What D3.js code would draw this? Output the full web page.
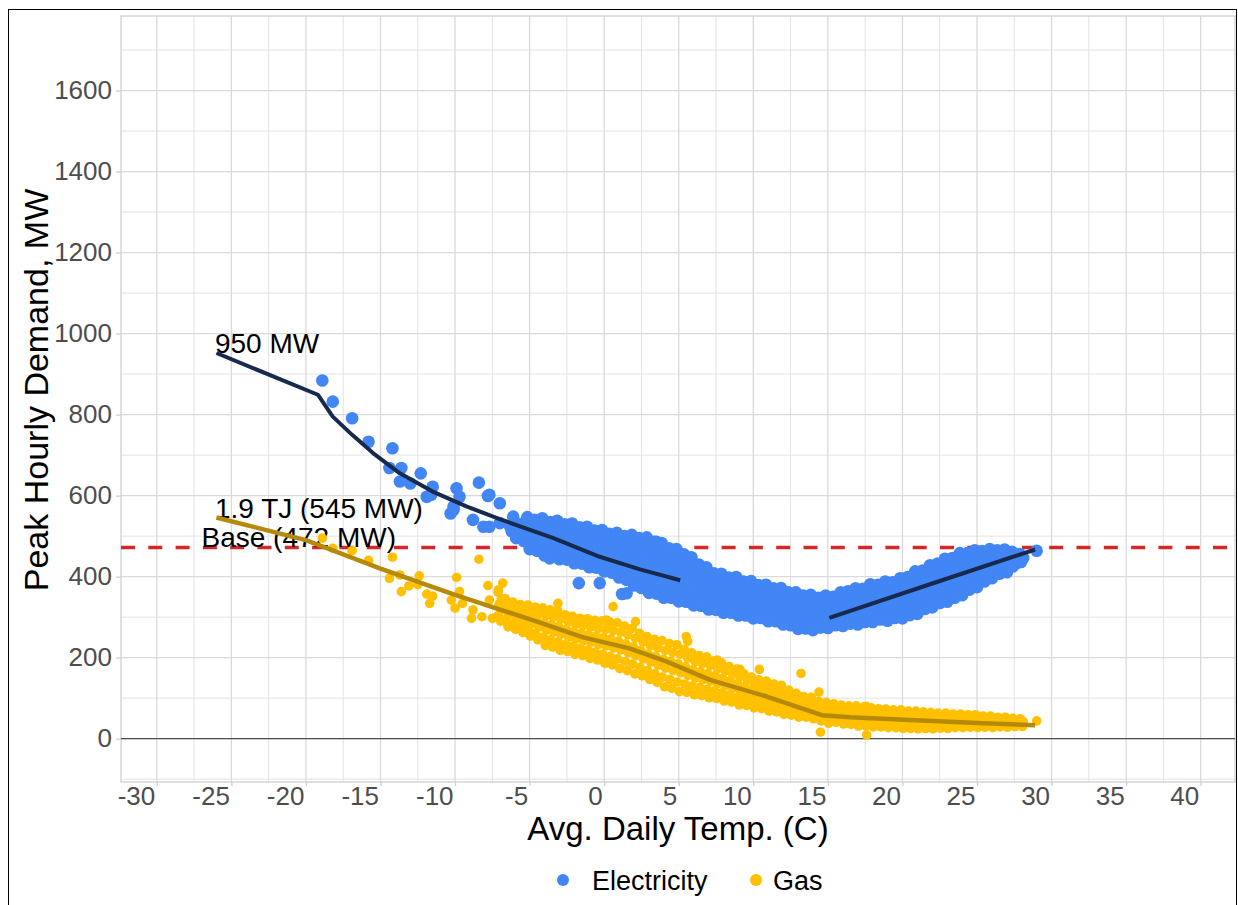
<!DOCTYPE html>
<html>
<head>
<meta charset="utf-8">
<script src="https://cdn.jsdelivr.net/npm/d3@7"></script>
<style>
  body { margin: 0; background: #fff; }
  svg text { font-family: "Liberation Sans", Arial, sans-serif; }
</style>
</head>
<body>
<div id="container"></div>
<script>
// tick labels
const xTicks = [-30, -25, -20, -15, -10, -5, 0, 5, 10, 15, 20, 25, 30, 35, 40];
const yTicks = [0, 200, 400, 600, 800, 1000, 1200, 1400, 1600];

const baseLoad = 472;

// [avg daily temp (C), peak hourly demand (MW)]
const elecPoints = [
  [-18.9,884],[-18.2,832],[-16.9,791],[-15.8,733],[-14.2,717],[-14.4,668],[-13.6,668],[-13.7,635],
  [-13.0,630],[-12.3,655],[-11.5,622],[-11.9,597],[-11.6,602],[-9.9,618],[-9.7,597],[-10.1,573],
  [-10.3,556],[-10.1,565],[-8.4,632],[-7.8,599],[-7.7,602],[-7.0,581],[-8.8,540],[-8.1,523],
  [-7.0,532],[-7.7,523],[-6.3,523],[-6.1,548],[-5.6,528],[-5.2,540],[-4.8,499],[-3.2,536],
  [-6.2,512],[-5.9,495],[-5.6,505],[-5.4,488],[-5.8,530],
  [-3.65,445],[-2.1,441],[-1.7,384],[-0.3,384],[1.5,359],[1.2,357],[3.5,486],[2.2,486],
  [-5.15,547],[-4.9,531],[-5.05,520],[-4.85,507],[-5.1,495],[-4.95,482],[-5.0,468],
  [-4.65,540],[-4.4,528],[-4.55,516],[-4.35,502],[-4.6,489],[-4.45,475],[-4.5,464],
  [-4.15,544],[-3.9,526],[-4.05,511],[-3.85,498],[-4.1,483],[-3.95,469],[-4.0,452],
  [-3.65,535],[-3.4,522],[-3.55,508],[-3.35,494],[-3.6,479],[-3.45,464],[-3.5,452],
  [-3.15,538],[-2.9,520],[-3.05,506],[-2.85,490],[-3.1,475],[-2.95,460],[-3.0,443],
  [-2.65,529],[-2.4,516],[-2.55,501],[-2.35,486],[-2.6,470],[-2.45,455],[-2.5,442],
  [-2.15,531],[-1.9,513],[-2.05,497],[-1.85,482],[-2.1,466],[-1.95,451],[-2.0,433],
  [-1.65,522],[-1.4,508],[-1.55,493],[-1.35,477],[-1.6,461],[-1.45,446],[-1.5,432],
  [-1.15,523],[-0.9,504],[-1.05,489],[-0.85,473],[-1.1,457],[-0.95,441],[-1.0,423],
  [-0.65,514],[-0.4,500],[-0.55,484],[-0.35,468],[-0.6,452],[-0.45,436],[-0.5,422],
  [-0.15,515],[0.1,496],[-0.05,480],[0.15,464],[-0.1,447],[0.05,431],[0.0,413],
  [0.35,506],[0.6,491],[0.45,475],[0.65,458],[0.4,441],[0.55,424],[0.5,410],
  [0.85,508],[1.1,487],[0.95,470],[1.15,452],[0.9,435],[1.05,417],[1.0,398],
  [1.35,500],[1.6,483],[1.45,465],[1.65,446],[1.4,427],[1.55,409],[1.5,392],
  [1.85,503],[2.1,480],[1.95,460],[2.15,440],[1.9,420],[2.05,400],[2.0,378],
  [2.35,495],[2.6,476],[2.45,455],[2.65,434],[2.4,412],[2.55,391],[2.5,372],
  [2.85,497],[3.1,472],[2.95,450],[3.15,428],[2.9,406],[3.05,384],[3.0,360],
  [3.35,486],[3.6,466],[3.45,444],[3.65,422],[3.4,400],[3.55,378],[3.5,358],
  [3.85,483],[4.1,458],[3.95,437],[4.15,415],[3.9,393],[4.05,372],[4.0,348],
  [4.35,470],[4.6,451],[4.45,430],[4.65,409],[4.4,388],[4.55,367],[4.5,348],
  [4.85,468],[5.1,444],[4.95,424],[5.15,403],[4.9,382],[5.05,362],[5.0,339],
  [5.35,455],[5.6,437],[5.45,417],[5.65,396],[5.4,376],[5.55,356],[5.5,338],
  [5.85,448],[6.1,426],[5.95,407],[6.15,388],[5.9,369],[6.05,350],[6.0,329],
  [6.35,430],[6.6,414],[6.45,397],[6.65,379],[6.4,361],[6.55,344],[6.5,328],
  [6.85,423],[7.1,404],[6.95,387],[7.15,371],[6.9,354],[7.05,338],[7.0,319],
  [7.35,408],[7.6,394],[7.45,379],[7.65,363],[7.4,347],[7.55,332],[7.5,318],
  [7.85,407],[8.1,389],[7.95,374],[8.15,358],[7.9,343],[8.05,328],[8.0,311],
  [8.35,398],[8.6,385],[8.45,370],[8.65,354],[8.4,339],[8.55,324],[8.5,311],
  [8.85,399],[9.1,381],[8.95,366],[9.15,351],[8.9,336],[9.05,321],[9.0,304],
  [9.35,388],[9.6,375],[9.45,361],[9.65,346],[9.4,331],[9.55,317],[9.5,304],
  [9.85,389],[10.1,371],[9.95,357],[10.15,342],[9.9,328],[10.05,313],[10.0,297],
  [10.35,379],[10.6,367],[10.45,353],[10.65,338],[10.4,324],[10.55,310],[10.5,298],
  [10.85,380],[11.1,363],[10.95,349],[11.15,334],[10.9,320],[11.05,306],[11.0,290],
  [11.35,371],[11.6,359],[11.45,345],[11.65,330],[11.4,316],[11.55,302],[11.5,290],
  [11.85,372],[12.1,355],[11.95,341],[12.15,326],[11.9,312],[12.05,298],[12.0,282],
  [12.35,361],[12.6,349],[12.45,335],[12.65,320],[12.4,306],[12.55,292],[12.5,280],
  [12.85,361],[13.1,344],[12.95,330],[13.15,315],[12.9,301],[13.05,287],[13.0,271],
  [13.35,353],[13.6,341],[13.45,327],[13.65,312],[13.4,298],[13.55,284],[13.5,272],
  [13.85,355],[14.1,338],[13.95,325],[14.15,311],[13.9,297],[14.05,284],[14.0,268],
  [14.35,348],[14.6,337],[14.45,324],[14.65,311],[14.4,298],[14.55,285],[14.5,274],
  [14.85,353],[15.1,337],[14.95,325],[15.15,312],[14.9,300],[15.05,287],[15.0,273],
  [15.35,350],[15.6,340],[15.45,327],[15.65,315],[15.4,303],[15.55,290],[15.5,280],
  [15.85,361],[16.1,345],[15.95,332],[16.15,319],[15.9,306],[16.05,293],[16.0,278],
  [16.35,364],[16.6,352],[16.45,338],[16.65,324],[16.4,310],[16.55,296],[16.5,284],
  [16.85,371],[17.1,354],[16.95,340],[17.15,326],[16.9,312],[17.05,298],[17.0,282],
  [17.35,370],[17.6,358],[17.45,343],[17.65,329],[17.4,315],[17.55,300],[17.5,288],
  [17.85,381],[18.1,363],[17.95,349],[18.15,334],[17.9,319],[18.05,305],[18.0,288],
  [18.35,380],[18.6,367],[18.45,352],[18.65,337],[18.4,322],[18.55,307],[18.5,294],
  [18.85,388],[19.1,370],[18.95,354],[19.15,339],[18.9,324],[19.05,308],[19.0,291],
  [19.35,386],[19.6,373],[19.45,357],[19.65,342],[19.4,327],[19.55,311],[19.5,298],
  [19.85,396],[20.1,377],[19.95,362],[20.15,346],[19.9,330],[20.05,315],[20.0,297],
  [20.35,399],[20.6,385],[20.45,368],[20.65,352],[20.4,336],[20.55,319],[20.5,305],
  [20.85,413],[21.1,393],[20.95,377],[21.15,360],[20.9,343],[21.05,327],[21.0,308],
  [21.35,415],[21.6,401],[21.45,384],[21.65,368],[21.4,351],[21.55,335],[21.5,320],
  [21.85,428],[22.1,409],[21.95,392],[22.15,376],[21.9,359],[22.05,343],[22.0,324],
  [22.35,432],[22.6,417],[22.45,400],[22.65,384],[22.4,367],[22.55,350],[22.5,335],
  [22.85,444],[23.1,424],[22.95,407],[23.15,391],[22.9,374],[23.05,357],[23.0,338],
  [23.35,446],[23.6,431],[23.45,414],[23.65,397],[23.4,380],[23.55,363],[23.5,348],
  [23.85,458],[24.1,439],[23.95,422],[24.15,406],[23.9,389],[24.05,373],[24.0,354],
  [24.35,458],[24.6,444],[24.45,429],[24.65,413],[24.4,397],[24.55,382],[24.5,368],
  [24.85,465],[25.1,448],[24.95,433],[25.15,419],[24.9,405],[25.05,390],[25.0,374],
  [25.35,463],[25.6,452],[25.45,439],[25.65,426],[25.4,412],[25.55,399],[25.5,388],
  [25.85,468],[26.1,455],[25.95,443],[26.15,432],[25.9,421],[26.05,409],[26.0,396],
  [26.35,465],[26.6,456],[26.45,446],[26.65,436],[26.4,425],[26.55,415],[26.5,407],
  [26.85,467],[27.1,456],[26.95,447],[27.15,439],[26.9,430],[27.05,421],[27.0,411],
  [27.35,461],[27.6,452],[27.45,443],[27.65,433],[27.4,425],
  [27.85,456],[28.1,446],[27.95,436],
  [29.0,464]
];

const gasPoints = [
  [-18.9,495],[-18.2,470],[-16.9,464],[-15.8,440],[-14.2,448],[-14.4,396],[-13.7,404],[-13.6,363],
  [-13.1,377],[-12.4,402],[-12.5,380],[-11.9,357],[-11.5,352],[-11.7,334],[-8.4,443],[-9.9,398],
  [-9.7,363],[-10.25,342],[-10.0,322],[-9.5,334],[-8.8,318],[-8.9,297],[-8.2,301],[-7.5,297],
  [-7.7,342],[-7.8,378],[-7.1,367],[-6.8,384],[-6.45,276],
  [-3.1,334],[-3.6,231],[0.15,293],[0.6,326],[2.1,289],[5.5,252],[5.6,240],[7.6,194],
  [9.1,171],[10.4,171],[13.2,161],[14.4,115],[14.5,16],[17.6,9],[17.55,80],
  [-7.12,362],[-6.9,346],[-7.05,332],[-6.88,318],[-7.1,304],[-6.95,290],
  [-6.62,345],[-6.4,332],[-6.55,320],[-6.38,307],[-6.6,294],[-6.45,282],
  [-6.12,337],[-5.9,322],[-6.05,310],[-5.88,297],[-6.1,284],[-5.95,270],
  [-5.62,331],[-5.4,317],[-5.55,303],[-5.38,290],[-5.6,276],[-5.45,262],
  [-5.12,330],[-4.9,313],[-5.05,299],[-4.88,284],[-5.1,270],[-4.95,253],
  [-4.62,325],[-4.4,309],[-4.55,293],[-4.38,276],[-4.6,260],[-4.45,244],
  [-4.12,323],[-3.9,304],[-4.05,286],[-3.88,268],[-4.1,250],[-3.95,230],
  [-3.62,318],[-3.4,300],[-3.55,281],[-3.38,263],[-3.6,244],[-3.45,226],
  [-3.12,316],[-2.9,296],[-3.05,277],[-2.88,258],[-3.1,239],[-2.95,218],
  [-2.62,306],[-2.4,288],[-2.55,270],[-2.38,251],[-2.6,233],[-2.45,215],
  [-2.12,302],[-1.9,282],[-2.05,264],[-1.88,246],[-2.1,228],[-1.95,208],
  [-1.62,297],[-1.4,279],[-1.55,260],[-1.38,242],[-1.6,223],[-1.45,205],
  [-1.12,296],[-0.9,276],[-1.05,257],[-0.88,238],[-1.1,219],[-0.95,198],
  [-0.62,292],[-0.4,272],[-0.55,253],[-0.38,233],[-0.6,214],[-0.45,194],
  [-0.12,291],[0.1,270],[-0.05,249],[0.12,229],[-0.1,208],[0.05,186],
  [0.38,288],[0.6,267],[0.45,246],[0.62,224],[0.4,203],[0.55,182],
  [0.88,286],[1.1,263],[0.95,241],[1.12,219],[0.9,197],[1.05,173],
  [1.38,278],[1.6,256],[1.45,234],[1.62,212],[1.4,190],[1.55,168],
  [1.88,272],[2.1,248],[1.95,227],[2.12,205],[1.9,184],[2.05,160],
  [2.38,260],[2.6,239],[2.45,218],[2.62,197],[2.4,176],[2.55,155],
  [2.88,252],[3.1,230],[2.95,209],[3.12,189],[2.9,168],[3.05,146],
  [3.38,245],[3.6,224],[3.45,203],[3.62,181],[3.4,160],[3.55,139],
  [3.88,242],[4.1,218],[3.95,196],[4.12,174],[3.9,152],[4.05,128],
  [4.38,235],[4.6,213],[4.45,191],[4.62,168],[4.4,146],[4.55,124],
  [4.88,232],[5.1,208],[4.95,185],[5.12,163],[4.9,140],[5.05,116],
  [5.38,220],[5.6,199],[5.45,178],[5.62,156],[5.4,135],[5.55,114],
  [5.88,212],[6.1,190],[5.95,170],[6.12,150],[5.9,130],[6.05,108],
  [6.38,205],[6.6,185],[6.45,165],[6.62,146],[6.4,126],[6.55,106],
  [6.88,202],[7.1,181],[6.95,161],[7.12,142],[6.9,122],[7.05,101],
  [7.38,192],[7.6,173],[7.45,155],[7.62,136],[7.4,118],[7.55,99],
  [7.88,187],[8.1,167],[7.95,149],[8.12,131],[7.9,113],[8.05,93],
  [8.38,178],[8.6,160],[8.45,143],[8.62,125],[8.4,108],[8.55,90],
  [8.88,172],[9.1,153],[8.95,136],[9.12,119],[8.9,102],[9.05,83],
  [9.38,160],[9.6,144],[9.45,129],[9.62,113],[9.4,98],[9.55,82],
  [9.88,152],[10.1,136],[9.95,121],[10.12,107],[9.9,92],[10.05,76],
  [10.38,145],[10.6,131],[10.45,117],[10.62,102],[10.4,88],[10.55,74],
  [10.88,142],[11.1,126],[10.95,112],[11.12,98],[10.9,84],[11.05,68],
  [11.38,135],[11.6,121],[11.45,107],[11.62,94],[11.4,80],[11.55,66],
  [11.88,132],[12.1,116],[11.95,103],[12.12,89],[11.9,76],[12.05,60],
  [12.38,120],[12.6,108],[12.45,95],[12.62,83],[12.4,70],[12.55,58],
  [12.88,112],[13.1,99],[12.95,88],[13.12,77],[12.9,66],[13.05,53],
  [13.38,104],[13.6,94],[13.45,84],[13.62,73],[13.4,63],[13.55,53],
  [13.88,102],[14.1,90],[13.95,80],[14.12,71],[13.9,61],[14.05,49],
  [14.38,92],[14.6,82],[14.45,73],[14.62,63],[14.4,54],[14.55,44],
  [14.88,90],[15.1,78],[14.95,69],[15.12,59],[14.9,50],[15.05,38],
  [15.4,86],[15.6,70],[15.45,55],[15.55,40],
  [15.9,83],[16.1,67],[15.95,52],[16.05,36],
  [16.4,81],[16.6,66],[16.45,50],[16.55,35],
  [16.9,81],[17.1,64],[16.95,48],[17.05,31],
  [17.4,78],[17.6,62],[17.45,47],[17.55,31],
  [17.9,76],[18.1,60],[17.95,45],[18.05,29],
  [18.4,74],[18.6,59],[18.45,44],[18.55,29],
  [18.9,73],[19.1,57],[18.95,42],[19.05,27],
  [19.4,71],[19.6,56],[19.45,42],[19.55,27],
  [19.9,71],[20.1,55],[19.95,40],[20.05,25],
  [20.4,68],[20.6,54],[20.45,39],[20.55,25],
  [20.9,68],[21.1,53],[20.95,39],[21.05,24],
  [21.4,66],[21.6,52],[21.45,39],[21.55,25],
  [21.9,65],[22.1,51],[21.95,38],[22.05,24],
  [22.4,63],[22.6,50],[22.45,38],[22.55,26],
  [22.9,63],[23.1,49],[22.95,37],[23.05,25],
  [23.4,61],[23.6,49],[23.45,38],[23.55,27],
  [23.9,61],[24.1,49],[23.95,38],[24.05,27],
  [24.4,59],[24.6,48],[24.45,38],[24.55,28],
  [24.9,59],[25.1,47],[24.95,37],[25.05,27],
  [25.4,56],[25.6,46],[25.45,37],[25.55,28],
  [25.9,56],[26.1,45],[25.95,36],[26.05,27],
  [26.4,53],[26.6,45],[26.45,37],[26.55,29],
  [26.9,53],[27.1,44],[26.95,36],[27.05,28],
  [27.4,50],[27.6,43],[27.45,37],[27.55,30],
  [27.9,49],[28.1,42],[27.95,35],[28.05,30],
  [29.0,44]
];

// fitted lines
const elecFitCold = [
  [-26.0,952],[-19.2,849],[-18.2,795],[-16.9,750],[-15.5,705],[-13.7,655],[-11.5,610],
  [-9.2,573],[-7.0,542],[-3.4,495],[-0.3,449],[2.4,418],[5.1,391]
];
const elecFitWarm = [[15.1,298],[22.0,383],[28.9,467]];
const gasFit = [
  [-26.0,546],[-20.0,490],[-15.0,420],[-10.0,355],[-5.0,295],[-1.4,250],[1.7,223],
  [4.2,190],[7.1,145],[10.9,104],[14.6,58],[16.5,53],[20.5,46],[25.4,38],[28.9,33]
];

const labels = [
  { x: -26.1, y: 952, text: "950 MW" },
  { x: -26.1, y: 545, text: "1.9 TJ (545 MW)" },
  { x: -27.0, y: 472, text: "Base (472 MW)" }
];

const series = [
  { name: "Electricity", color: "#4285F4" },
  { name: "Gas", color: "#FFC000" }
];

const width = 1238;
const height = 905;
const panel = { left: 121, right: 1235, top: 16, bottom: 782 };

const svg = d3.select("#container")
  .append("svg")
  .attr("width", width)
  .attr("height", height);

// outer frame
svg.append("rect")
  .attr("x", 8.5).attr("y", 9.5)
  .attr("width", 1228).attr("height", 900)
  .attr("fill", "none")
  .attr("stroke", "#000")
  .attr("stroke-width", 1);

const x = d3.scaleLinear()
  .domain([-32.4, 42.3])
  .range([panel.left, panel.right]);

const y = d3.scaleLinear()
  .domain([-107, 1784])
  .range([panel.bottom, panel.top]);

// grid
const xMinor = xTicks.map(d => d + 2.5).concat([-32.5]).filter(d => d > -32.4 && d < 42.3);
const yMinor = yTicks.map(d => d + 100).concat([-100]);

const grid = svg.append("g");
grid.selectAll(".xminor").data(xMinor).enter().append("line")
  .attr("x1", d => x(d)).attr("x2", d => x(d))
  .attr("y1", panel.top).attr("y2", panel.bottom)
  .attr("stroke", "#e3e3e3").attr("stroke-width", 1);
grid.selectAll(".yminor").data(yMinor).enter().append("line")
  .attr("x1", panel.left).attr("x2", panel.right)
  .attr("y1", d => y(d)).attr("y2", d => y(d))
  .attr("stroke", "#e3e3e3").attr("stroke-width", 1);
grid.selectAll(".xmajor").data(xTicks).enter().append("line")
  .attr("x1", d => x(d)).attr("x2", d => x(d))
  .attr("y1", panel.top).attr("y2", panel.bottom)
  .attr("stroke", "#dadada").attr("stroke-width", 1.3);
grid.selectAll(".ymajor").data(yTicks).enter().append("line")
  .attr("x1", panel.left).attr("x2", panel.right)
  .attr("y1", d => y(d)).attr("y2", d => y(d))
  .attr("stroke", "#dadada").attr("stroke-width", 1.3);

svg.append("rect")
  .attr("x", panel.left).attr("y", panel.top)
  .attr("width", panel.right - panel.left)
  .attr("height", panel.bottom - panel.top)
  .attr("fill", "none")
  .attr("stroke", "#d0d0d0")
  .attr("stroke-width", 1.3);

// axes (plain hyphen for negatives, no thousands separator)
const xAxis = svg.append("g")
  .attr("transform", `translate(0,${panel.bottom})`)
  .call(d3.axisBottom(x).tickValues(xTicks).tickSize(4).tickFormat(d => String(d)));
xAxis.select(".domain").remove();
xAxis.selectAll(".tick line").attr("stroke", "#cfcfcf").attr("stroke-width", 1.3);
xAxis.selectAll(".tick text")
  .attr("text-anchor", "end")
  .attr("x", -2)
  .attr("y", 23)
  .attr("dy", null)
  .style("font-size", "26px")
  .attr("fill", "#4d4d4d");

const yAxis = svg.append("g")
  .attr("transform", `translate(${panel.left},0)`)
  .call(d3.axisLeft(y).tickValues(yTicks).tickSize(5).tickPadding(4).tickFormat(d => String(d)));
yAxis.select(".domain").remove();
yAxis.selectAll(".tick line").attr("stroke", "#cfcfcf").attr("stroke-width", 1.3);
yAxis.selectAll(".tick text")
  .style("font-size", "26px")
  .attr("fill", "#4d4d4d");

// zero line and base load
svg.append("line")
  .attr("x1", panel.left).attr("x2", panel.right)
  .attr("y1", y(0)).attr("y2", y(0))
  .attr("stroke", "#4d4d4d").attr("stroke-width", 1.3);

svg.append("line")
  .attr("x1", panel.left).attr("x2", panel.right)
  .attr("y1", y(baseLoad)).attr("y2", y(baseLoad))
  .attr("stroke", "#d62728").attr("stroke-width", 3.5)
  .style("stroke-dasharray", "14,13.3");

// annotations
svg.append("g").selectAll("text")
  .data(labels).enter().append("text")
  .attr("x", d => x(d.x))
  .attr("y", d => y(d.y))
  .style("font-size", "28px")
  .attr("fill", "#000")
  .text(d => d.text);

// points
svg.append("g").selectAll("circle")
  .data(elecPoints).enter().append("circle")
  .attr("cx", d => x(d[0]))
  .attr("cy", d => y(d[1]))
  .attr("r", 6.3)
  .attr("fill", series[0].color);

svg.append("g").selectAll("circle")
  .data(gasPoints).enter().append("circle")
  .attr("cx", d => x(d[0]))
  .attr("cy", d => y(d[1]))
  .attr("r", 4.8)
  .attr("fill", series[1].color);

// fitted lines
const line = d3.line()
  .x(d => x(d[0]))
  .y(d => y(d[1]));

[elecFitCold, elecFitWarm].forEach(data => {
  svg.append("path")
    .datum(data)
    .attr("fill", "none")
    .attr("stroke", "#172a4d")
    .attr("stroke-width", 4)
    .attr("stroke-linejoin", "round")
    .attr("d", line);
});

svg.append("path")
  .datum(gasFit)
  .attr("fill", "none")
  .attr("stroke", "#b5890a")
  .attr("stroke-width", 4.5)
  .attr("stroke-linejoin", "round")
  .attr("d", line);

// axis titles
svg.append("text")
  .attr("x", (panel.left + panel.right) / 2)
  .attr("y", 840)
  .attr("text-anchor", "middle")
  .style("font-size", "33px")
  .attr("fill", "#000")
  .text("Avg. Daily Temp. (C)");

svg.append("text")
  .attr("transform", "translate(48,390) rotate(-90)")
  .attr("text-anchor", "middle")
  .style("font-size", "34px")
  .attr("fill", "#000")
  .text("Peak Hourly Demand, MW");

// legend
const legendX = [563, 756];
const legend = svg.append("g");
series.forEach((s, i) => {
  legend.append("circle")
    .attr("cx", legendX[i])
    .attr("cy", 880)
    .attr("r", 6)
    .attr("fill", s.color);
  legend.append("text")
    .attr("x", legendX[i] + (i === 0 ? 29 : 17))
    .attr("y", 890)
    .style("font-size", "27px")
    .attr("fill", "#000")
    .text(s.name);
});
</script>
</body>
</html>
